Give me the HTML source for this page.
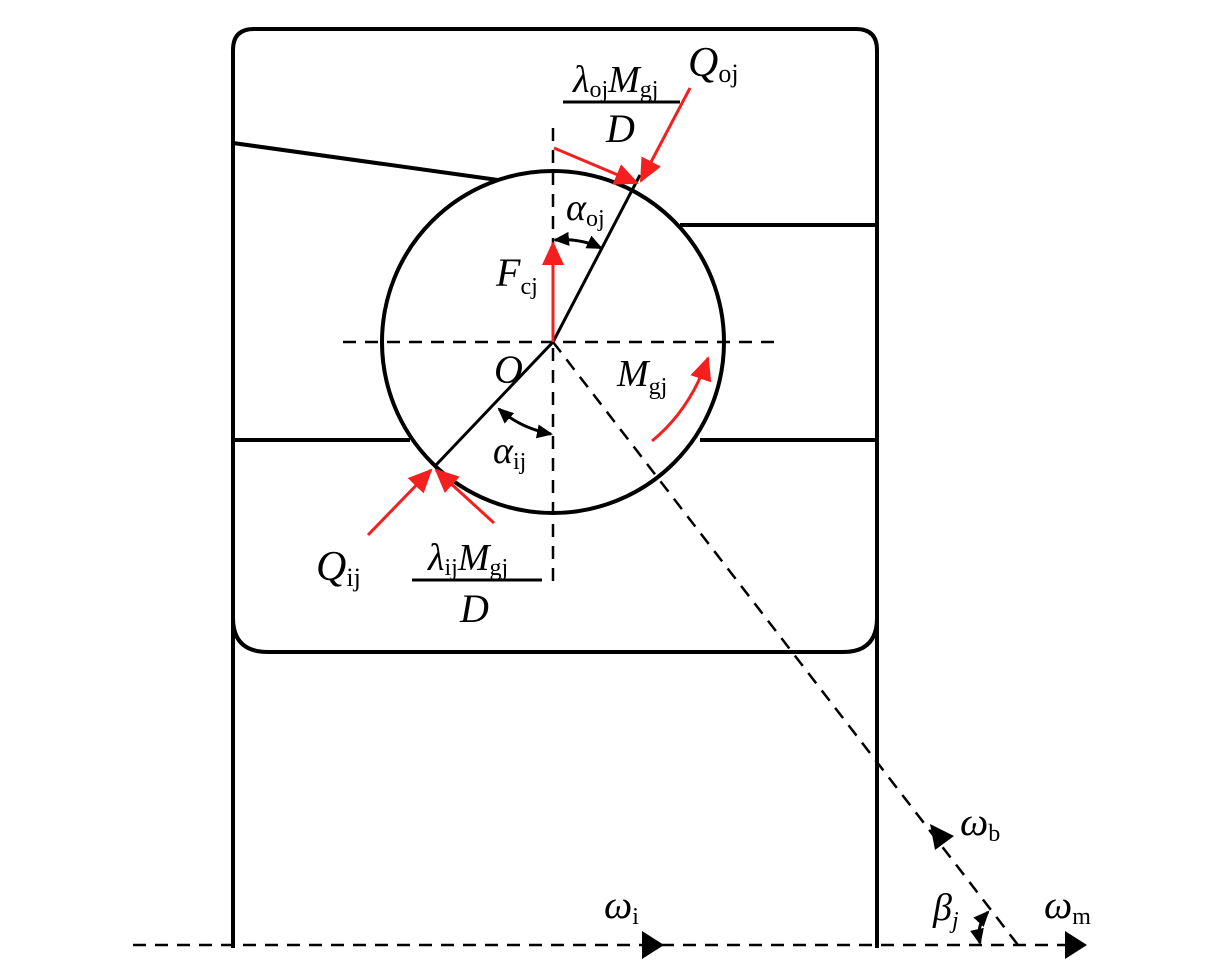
<!DOCTYPE html>
<html><head><meta charset="utf-8"><style>
html,body{margin:0;padding:0;background:#fff;}
svg{display:block}
text{font-family:"Liberation Serif",serif;font-style:italic;fill:#000}
.s{font-style:normal}
</style></head><body>
<svg width="1228" height="960" viewBox="0 0 1228 960" xmlns="http://www.w3.org/2000/svg">
<defs>
<marker id="ra" markerWidth="24" markerHeight="22" refX="22" refY="11" orient="auto" markerUnits="userSpaceOnUse" viewBox="0 0 24 22"><path d="M0,0 L24,11 L0,22z" fill="#f41f1f"/></marker>
<marker id="ka" markerWidth="16" markerHeight="14" refX="14" refY="7" orient="auto-start-reverse" viewBox="0 0 16 14" markerUnits="userSpaceOnUse"><path d="M0,0 L16,7 L0,14z" fill="#000"/></marker>
</defs>
<g fill="none" stroke="#000" stroke-width="4">
<path d="M233,948 L233,50 Q233,29 254,29 L856,29 Q877,29 877,50 L877,948"/>
<path d="M233,618 Q233,652 268,652 L843,652 Q877,652 877,618"/>
<circle cx="553" cy="342" r="171"/>
<line x1="233" y1="143" x2="498" y2="180"/>
<line x1="680" y1="225" x2="877" y2="225"/>
<line x1="233" y1="440" x2="410" y2="440"/>
<line x1="700" y1="440" x2="877" y2="440"/>
</g>
<g fill="none" stroke="#000" stroke-width="2.5" stroke-dasharray="13,9">
<line x1="343" y1="342" x2="780" y2="342"/>
<line x1="553" y1="128" x2="553" y2="590"/>
<line x1="553" y1="342" x2="1018" y2="945"/>
<line x1="133" y1="945" x2="1070" y2="945"/>
</g>
<line x1="436" y1="465" x2="553" y2="342" stroke="#000" stroke-width="3"/>
<line x1="553" y1="342" x2="640" y2="175" stroke="#000" stroke-width="3"/>
<line x1="563" y1="102" x2="680" y2="102" stroke="#000" stroke-width="3"/>
<line x1="412" y1="580" x2="542" y2="580" stroke="#000" stroke-width="3"/>
<g stroke="#f41f1f" stroke-width="3" fill="none">
<line x1="554" y1="148" x2="637" y2="183" marker-end="url(#ra)"/>
<line x1="690" y1="88" x2="641" y2="181" marker-end="url(#ra)"/>
<line x1="368" y1="535" x2="431" y2="470" marker-end="url(#ra)"/>
<line x1="494" y1="523" x2="436" y2="470" marker-end="url(#ra)"/>
<line x1="553" y1="342" x2="553" y2="243" marker-end="url(#ra)"/>
<path d="M652,441 Q690,410 708,358" marker-end="url(#ra)"/>
</g>
<g stroke="#000" stroke-width="3" fill="none">
<path d="M555,240 Q580,238 601,248" marker-start="url(#ka)" marker-end="url(#ka)"/>
<path d="M499,409 Q520,428 551,434" marker-start="url(#ka)" marker-end="url(#ka)"/>
<path d="M988,912 Q976,925 980,943" marker-start="url(#ka)" marker-end="url(#ka)"/>
</g>
<path d="M642,931 L664,945 L642,959z" fill="#000"/>
<path d="M1065,931 L1087,945 L1065,959z" fill="#000"/>
<path d="M935,850 L930,824 L954,836z" fill="#000"/>
<text x="573" y="92" font-size="38">λ<tspan class="s" font-size="24" dy="5">oj</tspan><tspan dy="-5">M</tspan><tspan class="s" font-size="24" dy="5">gj</tspan></text>
<text x="606" y="142" font-size="40">D</text>
<text x="688" y="76" font-size="42">Q<tspan class="s" font-size="26" dy="6">oj</tspan></text>
<text x="566" y="220" font-size="38">α<tspan class="s" font-size="24" dy="6">oj</tspan></text>
<text x="496" y="286" font-size="40">F<tspan class="s" font-size="24" dy="8">cj</tspan></text>
<text x="494" y="383" font-size="40">O</text>
<text x="617" y="386" font-size="38">M<tspan class="s" font-size="24" dy="8">gj</tspan></text>
<text x="493" y="463" font-size="38">α<tspan class="s" font-size="24" dy="6">ij</tspan></text>
<text x="316" y="580" font-size="42">Q<tspan class="s" font-size="26" dy="6">ij</tspan></text>
<text x="428" y="570" font-size="38">λ<tspan class="s" font-size="24" dy="5">ij</tspan><tspan dy="-5">M</tspan><tspan class="s" font-size="24" dy="5">gj</tspan></text>
<text x="460" y="622" font-size="40">D</text>
<text x="604" y="918" font-size="40">ω<tspan class="s" font-size="24" dy="6">i</tspan></text>
<text x="960" y="835" font-size="40">ω<tspan class="s" font-size="24" dy="6">b</tspan></text>
<text x="933" y="920" font-size="38">β<tspan font-size="24" dy="8">j</tspan></text>
<text x="1044" y="918" font-size="40">ω<tspan class="s" font-size="24" dy="6">m</tspan></text>
</svg>
</body></html>
